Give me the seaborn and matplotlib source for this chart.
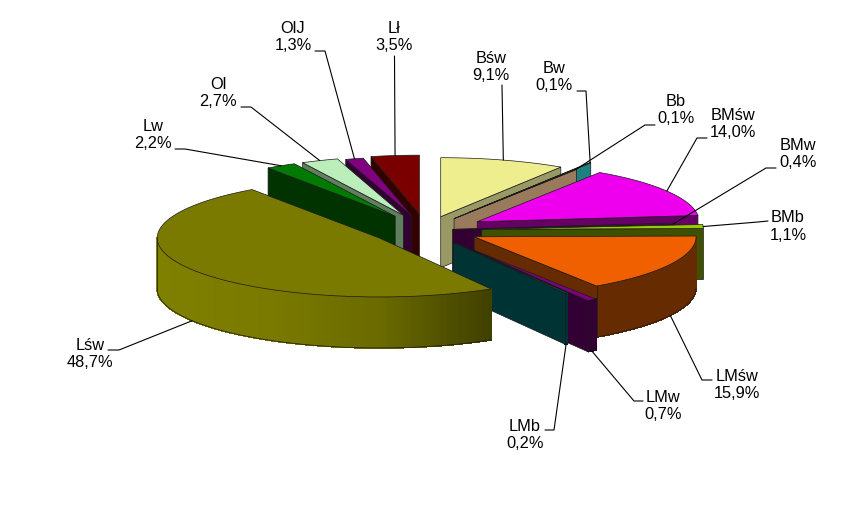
import numpy as np
import matplotlib
matplotlib.use("Agg")
import matplotlib.pyplot as plt
import seaborn as sns

# shares of the forest site types, clockwise from 12 o'clock
names = ["Bśw", "Bw", "Bb", "BMśw", "BMw", "BMb", "LMśw", "LMw", "LMb", "Lśw", "Lw", "Ol", "OlJ", "Lł"]
shares = [9.1, 0.1, 0.1, 14.0, 0.4, 1.1, 15.9, 0.7, 0.2, 48.7, 2.2, 2.7, 1.3, 3.5]

# styles
top_colors = ["#EEEE8E", "#008080", "#997A5C", "#EE00EE", "#660066", "#99CC00", "#F06000",
              "#800080", "#006666", "#7A7A00", "#007A00", "#BBEEBB", "#800080", "#7A0000"]
wall_colors = ["#999966", "#1F8080", "#997A5C", "#660066", "#330033", "#3F5000", "#662B00",
               "#330033", "#003333", "#7A7A00", "#003300", "#5F7F5F", "#330033", "#330000"]
pulls = [0.235, 0.36, 0.23, 0.27, 0.12, 0.25, 0.245, 0.40, 0.24, 0.25, 0.27, 0.27, 0.25, 0.27]
draw_order = [0, 1, 2, 3, 4, 5, 6, 7, 8, 13, 12, 11, 10, 9]

# label centre, stub start and elbow of each leader
label_xy = [(491, 67), (554, 77), (676, 110), (733, 124), (798, 154), (788, 226.5), (737, 385),
            (663, 406), (525, 435), (90, 354), (153, 135), (218, 93), (293, 37), (394, 37)]
stubs = [(502, 85), (577, 91), (655, 125), (707, 138), (776, 168), (768, 221), (712, 380),
         (643, 401), (545, 430), (108, 350), (175, 149), (241, 107), (315, 51), (394.5, 56)]
elbows = [(502, 85), (586, 91), (645, 125), (697, 138), (766, 168), (758, 222), (702, 380),
          (634, 401), (554, 430), (119, 350), (185, 149), (251, 107), (325, 51), (394.5, 56)]

cx, cy = 426, 230
rx, ry, depth = 222, 59, 51
edge = "#1a1a1a"

sns.set_theme(style="white")
plt.rcParams["font.family"] = ["Liberation Sans", "DejaVu Sans"]

fig, ax = plt.subplots(figsize=(8.47, 5.23), dpi=100)
fig.subplots_adjust(0, 0, 1, 1)
ax.set_xlim(0, 847)
ax.set_ylim(523, 0)
ax.axis("off")


def rim(apex, deg):
    a = np.radians(deg)
    return apex[0] + rx * np.sin(a), apex[1] - ry * np.cos(a)


def wall(apex, deg, color, z):
    p = rim(apex, deg)
    ax.fill([apex[0], p[0], p[0], apex[0]], [apex[1], p[1], p[1] + depth, apex[1] + depth],
            facecolor=color, edgecolor=edge, linewidth=0.5, zorder=z)


edges = np.cumsum([0] + shares) / sum(shares) * 360
gradient = sns.blend_palette(["#7F7F00", "#7A7A00", "#6A6A00", "#404000"], 200)
targets = {}

for z, i in enumerate(draw_order):
    start, end = edges[i], edges[i + 1]
    mid = (start + end) / 2
    m = np.radians(mid)
    apex = (cx + pulls[i] * rx * np.sin(m), cy - pulls[i] * ry * np.cos(m))

    # flat cut faces, only those turned towards the viewer
    if start >= 180:
        wall(apex, start, wall_colors[i], z * 10)
    if end <= 180:
        wall(apex, end, wall_colors[i], z * 10)

    # outer curved side on the front half
    lo, hi = max(start, 90), min(end, 270)
    if hi > lo:
        arc = np.linspace(lo, hi, 160)
        xs, ys = rim(apex, arc)
        for k in range(len(arc) - 1):
            if names[i] == "Lśw":
                f = (xs[k] - xs.min()) / (xs.max() - xs.min())
                color = gradient[min(int(f * 199), 199)]
            else:
                color = wall_colors[i]
            ax.fill([xs[k], xs[k + 1], xs[k + 1], xs[k]],
                    [ys[k], ys[k + 1], ys[k + 1] + depth, ys[k] + depth],
                    facecolor=color, edgecolor=color, linewidth=0.6, antialiased=False,
                    zorder=z * 10 + 1)
        ax.plot(xs, ys + depth, color=edge, linewidth=0.5, zorder=z * 10 + 2)
        ax.plot([xs[-1], xs[-1]], [ys[-1], ys[-1] + depth], color=edge, linewidth=0.5, zorder=z * 10 + 2)

    # top face
    arc = np.linspace(start, end, 120)
    xs, ys = rim(apex, arc)
    ax.fill(np.r_[apex[0], xs], np.r_[apex[1], ys], facecolor=top_colors[i],
            edgecolor=edge, linewidth=0.5, zorder=z * 10 + 3)

    tx, ty = rim(apex, mid)
    if 90 < mid < 270:
        ty += depth
    targets[i] = (tx, ty)

for i, name in enumerate(names):
    ax.plot([stubs[i][0], elbows[i][0], targets[i][0]], [stubs[i][1], elbows[i][1], targets[i][1]],
            color="black", linewidth=0.8, zorder=500)
    share = f"{shares[i]:.1f}".replace(".", ",")
    ax.text(label_xy[i][0], label_xy[i][1], f"{name}\n{share}%", ha="center", va="center",
            multialignment="center", fontsize=11.8, color="black", linespacing=1.22, zorder=600)

sns.despine(ax=ax, left=True, bottom=True)
fig.savefig("out.png", dpi=100, facecolor="white")
